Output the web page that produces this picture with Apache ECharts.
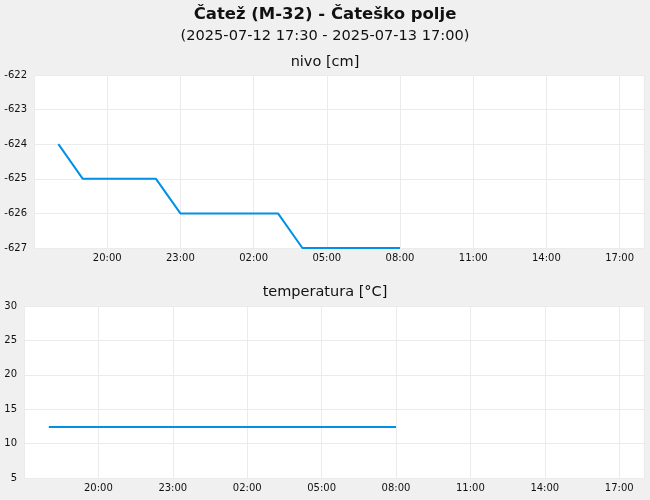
<!DOCTYPE html>
<html>
<head>
<meta charset="utf-8">
<script src="https://cdn.jsdelivr.net/npm/echarts@6/dist/echarts.min.js"></script>
<style>
html,body{margin:0;padding:0;background:#f0f0f0;}
#c{width:650px;height:500px;}
</style>
</head>
<body>
<div id="c"></div>
<script>
var titleText = 'Čatež (M-32) - Čateško polje';
var subtitleText = '(2025-07-12 17:30 - 2025-07-13 17:00)';
var levelTitle = 'nivo [cm]';
var tempTitle = 'temperatura [°C]';

var axisStart = '2025-07-12 17:00';
var axisEnd = '2025-07-13 18:00';

var times = ['2025-07-12 18:00','2025-07-12 19:00','2025-07-12 20:00','2025-07-12 21:00','2025-07-12 22:00',
             '2025-07-12 23:00','2025-07-13 00:00','2025-07-13 01:00','2025-07-13 02:00','2025-07-13 03:00',
             '2025-07-13 04:00','2025-07-13 05:00','2025-07-13 06:00','2025-07-13 07:00','2025-07-13 08:00'];
var levelValues = [-624,-625,-625,-625,-625,-626,-626,-626,-626,-626,-627,-627,-627,-627,-627];
var tempValues = [12.4,12.4,12.4,12.4,12.4,12.4,12.4,12.4,12.4,12.4,12.4,12.4,12.4,12.4,12.4];

var levelTicks = {min:-627, max:-622, interval:1};
var tempTicks = {min:5, max:30, interval:5};
var xTickHours = 3;

function toMinutes(s){
  var p = s.split(' '); var d = p[0].split('-'); var t = p[1].split(':');
  return Date.UTC(+d[0], +d[1]-1, +d[2], +t[0], +t[1]) / 60000;
}
var startMin = toMinutes(axisStart);
var startHour = +axisStart.split(' ')[1].split(':')[0];
function hoursFromStart(s){ return (toMinutes(s) - startMin) / 60; }
var xMax = hoursFromStart(axisEnd);

function pairs(vals){ return times.map(function(t,i){ return [hoursFromStart(t), vals[i]]; }); }
function fmtX(v){
  var h = Math.round((startHour + v) % 24);
  return (h < 10 ? '0' + h : '' + h) + ':00';
}

var font = 'DejaVu Sans';
var gridLine = {show:true, lineStyle:{color:'#ebebeb', width:1}};
function xAxis(idx){
  return {type:'value', gridIndex:idx, min:0, max:xMax, interval:xTickHours,
    axisLine:{show:false}, axisTick:{show:false}, splitLine:gridLine,
    axisLabel:{formatter:fmtX, showMinLabel:false, margin:5, fontSize:10, color:'#111', fontFamily:font}};
}
function yAxis(idx, t){
  return {type:'value', gridIndex:idx, min:t.min, max:t.max, interval:t.interval,
    axisLine:{show:false}, axisTick:{show:false}, splitLine:gridLine,
    axisLabel:{margin:7, fontSize:10, color:'#111', fontFamily:font}};
}

var chart = echarts.init(document.getElementById('c'), null, {renderer:'canvas'});
chart.setOption({
  animation:false,
  backgroundColor:'#f0f0f0',
  title:[
    {text:titleText, left:'center', top:1, textStyle:{fontFamily:font, fontSize:16.5, fontWeight:'bold', color:'#111'}},
    {text:subtitleText, left:'center', top:24, textStyle:{fontFamily:font, fontSize:14.6, fontWeight:'normal', color:'#111'}},
    {text:levelTitle, left:'center', top:50, textStyle:{fontFamily:font, fontSize:14.5, fontWeight:'normal', color:'#111'}},
    {text:tempTitle, left:'center', top:280, textStyle:{fontFamily:font, fontSize:14.5, fontWeight:'normal', color:'#111'}}
  ],
  grid:[
    {left:34, right:6, top:75, height:173, show:true, backgroundColor:'#fff', borderWidth:0},
    {left:24, right:6, top:306, height:172, show:true, backgroundColor:'#fff', borderWidth:0}
  ],
  xAxis:[xAxis(0), xAxis(1)],
  yAxis:[yAxis(0, levelTicks), yAxis(1, tempTicks)],
  series:[
    {type:'line', xAxisIndex:0, yAxisIndex:0, data:pairs(levelValues), showSymbol:false, lineStyle:{color:'#0090e6', width:2}, itemStyle:{color:'#0090e6'}},
    {type:'line', xAxisIndex:1, yAxisIndex:1, data:pairs(tempValues), showSymbol:false, lineStyle:{color:'#0090e6', width:2}, itemStyle:{color:'#0090e6'}}
  ]
});
</script>
</body>
</html>
